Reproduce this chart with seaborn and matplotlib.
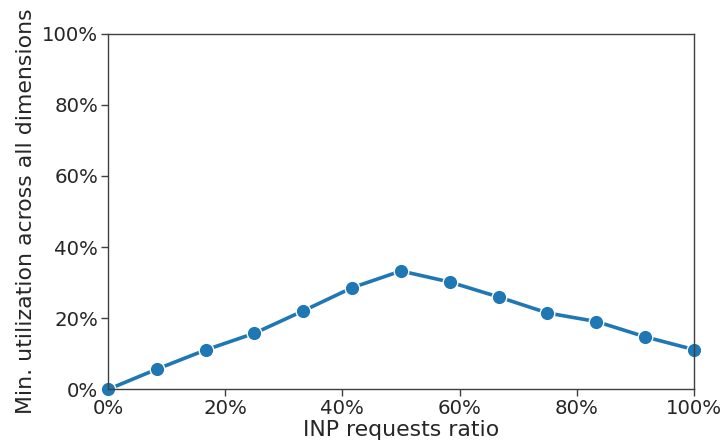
import numpy as np
import pandas as pd
import seaborn as sns
import matplotlib
matplotlib.use("Agg")
import matplotlib.pyplot as plt
from matplotlib.ticker import PercentFormatter

# INP request share (fraction) and the resulting minimum utilization (fraction)
inp_ratio = [0, 1/12, 2/12, 3/12, 4/12, 5/12, 6/12, 7/12, 8/12, 9/12, 10/12, 11/12, 1.0]
min_util = [0.0, 0.057, 0.111, 0.158, 0.221, 0.286, 0.333, 0.302, 0.260, 0.215, 0.191, 0.148, 0.112]

x_ticks = [0, 0.2, 0.4, 0.6, 0.8, 1.0]
y_ticks = [0, 0.2, 0.4, 0.6, 0.8, 1.0]

sns.set_theme(style="ticks")
plt.rcParams["font.family"] = ["DejaVu Sans"]

df = pd.DataFrame({"ratio": inp_ratio, "util": min_util})

fig = plt.figure(figsize=(7.24, 4.48), dpi=100)
ax = fig.add_axes([0.149, 0.1306, 0.8096, 0.7944])

sns.lineplot(data=df, x="ratio", y="util", ax=ax, color="#1f77b4",
             linewidth=2.6, marker="o", markersize=10.5,
             markeredgecolor="white", markeredgewidth=1.0, clip_on=False)

ax.set_xlim(0, 1)
ax.set_ylim(0, 1)
ax.set_xticks(x_ticks)
ax.set_yticks(y_ticks)
ax.xaxis.set_major_formatter(PercentFormatter(1.0, decimals=0))
ax.yaxis.set_major_formatter(PercentFormatter(1.0, decimals=0))
ax.tick_params(labelsize=14.2, length=5, width=1.0, color="#404040", pad=2)
for s in ax.spines.values():
    s.set_color("#404040")
    s.set_linewidth(1.0)
    s.set_visible(True)

ax.set_xlabel("INP requests ratio", fontsize=15.8, labelpad=1)
ax.set_ylabel("Min. utilization across all dimensions", fontsize=15.8, labelpad=4)

fig.savefig("out.png", dpi=100)
